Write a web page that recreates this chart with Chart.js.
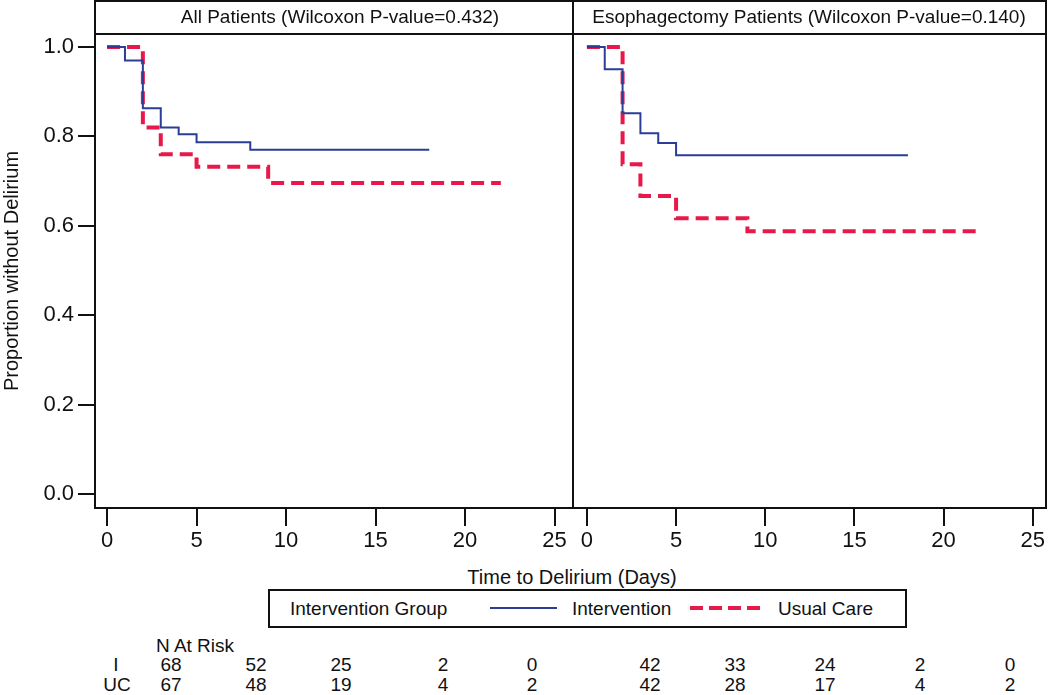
<!DOCTYPE html>
<html>
<head>
<meta charset="utf-8">
<script src="https://cdn.jsdelivr.net/npm/chart.js@4"></script>
<style>
  body { margin: 0; background: #fff; font-family: "Liberation Sans", Arial, sans-serif; color: #111; }
  #wrap { position: relative; width: 1050px; height: 695px; overflow: hidden; }
  canvas { position: absolute; top: 0; }
  .line { position: absolute; background: #111; }
  .txt { position: absolute; font-size: 19px; white-space: nowrap; line-height: 22px; }
  .c { transform: translateX(-50%); }
</style>
</head>
<body>
<div id="wrap">
  <canvas id="leftChart" width="573" height="560" style="left:0"></canvas>
  <canvas id="rightChart" width="474" height="560" style="left:573px"></canvas>

  <!-- panel frames -->
  <div class="line" style="left:94px;top:0;width:953px;height:2px"></div>
  <div class="line" style="left:94px;top:33px;width:953px;height:2px"></div>
  <div class="line" style="left:94px;top:507px;width:953px;height:2px"></div>
  <div class="line" style="left:94px;top:0;width:2px;height:509px"></div>
  <div class="line" style="left:572px;top:0;width:2px;height:509px"></div>
  <div class="line" style="left:1045px;top:0;width:2px;height:509px"></div>

  <div class="txt c" style="left:340px;top:6px">All Patients (Wilcoxon P-value=0.432)</div>
  <div class="txt c" style="left:809px;top:6px">Esophagectomy Patients (Wilcoxon P-value=0.140)</div>

  <div class="txt c" style="left:572px;top:565px;font-size:20px;line-height:24px">Time to Delirium (Days)</div>

  <!-- legend -->
  <div style="position:absolute;left:268px;top:589px;width:639px;height:39px;border:2px solid #111;box-sizing:border-box"></div>
  <div class="txt" style="left:290px;top:598px">Intervention Group</div>
  <div style="position:absolute;left:490px;top:607px;width:67px;height:2px;background:#2b3e96"></div>
  <div class="txt" style="left:572px;top:598px">Intervention</div>
  <div style="position:absolute;left:690px;top:606px;width:70px;height:4px;background:repeating-linear-gradient(90deg,#e8194a 0 13px,transparent 13px 19px)"></div>
  <div class="txt" style="left:778px;top:598px">Usual Care</div>

  <div id="risk"></div>
</div>

<script>
// Kaplan-Meier steps
const xTicks = [0, 5, 10, 15, 20, 25];
const yTicks = [0, 0.2, 0.4, 0.6, 0.8, 1.0];

const allIntDays = [0, 1, 2, 3, 4, 5, 8, 18];
const allIntSurv = [1.0, 0.97, 0.863, 0.82, 0.805, 0.787, 0.77, 0.77];
const allUcDays = [0, 2, 3, 5, 9, 22];
const allUcSurv = [1.0, 0.82, 0.76, 0.732, 0.696, 0.696];

const esoIntDays = [0, 1, 2, 3, 4, 5, 18];
const esoIntSurv = [1.0, 0.95, 0.852, 0.807, 0.785, 0.758, 0.758];
const esoUcDays = [0, 2, 3, 5, 9, 22];
const esoUcSurv = [1.0, 0.738, 0.667, 0.617, 0.588, 0.588];

// numbers at risk
const riskLabels = ['I', 'UC'];
const riskAllI = [68, 52, 25, 2, 0];
const riskAllUC = [67, 48, 19, 4, 2];
const riskEsoI = [42, 33, 24, 2, 0];
const riskEsoUC = [42, 28, 17, 4, 2];

const blue = '#2b3e96';
const red = '#e8194a';

function pts(days, surv) {
    return days.map((d, i) => ({ x: d, y: surv[i] }));
}

function makeChart(id, intData, ucData, xMin, xMax, showY) {
    const ctx = document.getElementById(id).getContext('2d');
    return new Chart(ctx, {
        type: 'line',
        data: {
            datasets: [
                {
                    label: 'Intervention',
                    data: intData,
                    borderColor: blue,
                    borderWidth: 2,
                    stepped: 'before',
                    pointRadius: 0,
                    fill: false
                },
                {
                    label: 'Usual Care',
                    data: ucData,
                    borderColor: red,
                    borderWidth: 4,
                    borderDash: [13, 7],
                    stepped: 'before',
                    pointRadius: 0,
                    fill: false
                }
            ]
        },
        options: {
            responsive: false,
            maintainAspectRatio: false,
            animation: false,
            devicePixelRatio: 1,
            layout: { padding: { top: 34, right: 0, left: 0, bottom: 0 } },
            plugins: { legend: { display: false }, tooltip: { enabled: false } },
            scales: {
                x: {
                    type: 'linear',
                    min: xMin,
                    max: xMax,
                    afterBuildTicks: s => { s.ticks = xTicks.map(v => ({ value: v })); },
                    afterFit: s => { s.height = 52; },
                    grid: { drawOnChartArea: false, tickLength: 18, color: '#111', lineWidth: 2 },
                    border: { display: false },
                    ticks: { color: '#111', font: { family: 'Liberation Sans', size: 22 }, padding: 2, maxRotation: 0 }
                },
                y: {
                    display: showY,
                    min: -0.031,
                    max: 1.029,
                    afterBuildTicks: s => { s.ticks = yTicks.map(v => ({ value: v })); },
                    afterFit: s => { s.width = showY ? 94 : 0; },
                    grid: { drawOnChartArea: false, tickLength: 16, color: '#111', lineWidth: 2 },
                    border: { display: false },
                    ticks: { color: '#111', font: { family: 'Liberation Sans', size: 22 }, padding: 4, callback: v => v.toFixed(1) },
                    title: { display: true, text: 'Proportion without Delirium', color: '#111', font: { family: 'Liberation Sans', size: 20 }, padding: 0 }
                }
            }
        }
    });
}

makeChart('leftChart', pts(allIntDays, allIntSurv), pts(allUcDays, allUcSurv), -0.73, 26.03, true);
makeChart('rightChart', pts(esoIntDays, esoIntSurv), pts(esoUcDays, esoUcSurv), -0.78, 25.7, false);

// at-risk table
const riskCols = [171, 256, 341, 443, 532, 650, 735, 825, 920, 1010];
const risk = document.getElementById('risk');
function addText(t, x, y) {
    const d = document.createElement('div');
    d.className = 'txt c';
    d.style.left = x + 'px';
    d.style.top = y + 'px';
    d.textContent = t;
    risk.appendChild(d);
}
addText('N At Risk', 195, 635);
addText(riskLabels[0], 116, 654);
addText(riskLabels[1], 117, 674);
const rowI = riskAllI.concat(riskEsoI);
const rowUC = riskAllUC.concat(riskEsoUC);
rowI.forEach((v, i) => addText(String(v), riskCols[i], 654));
rowUC.forEach((v, i) => addText(String(v), riskCols[i], 674));
</script>
</body>
</html>
